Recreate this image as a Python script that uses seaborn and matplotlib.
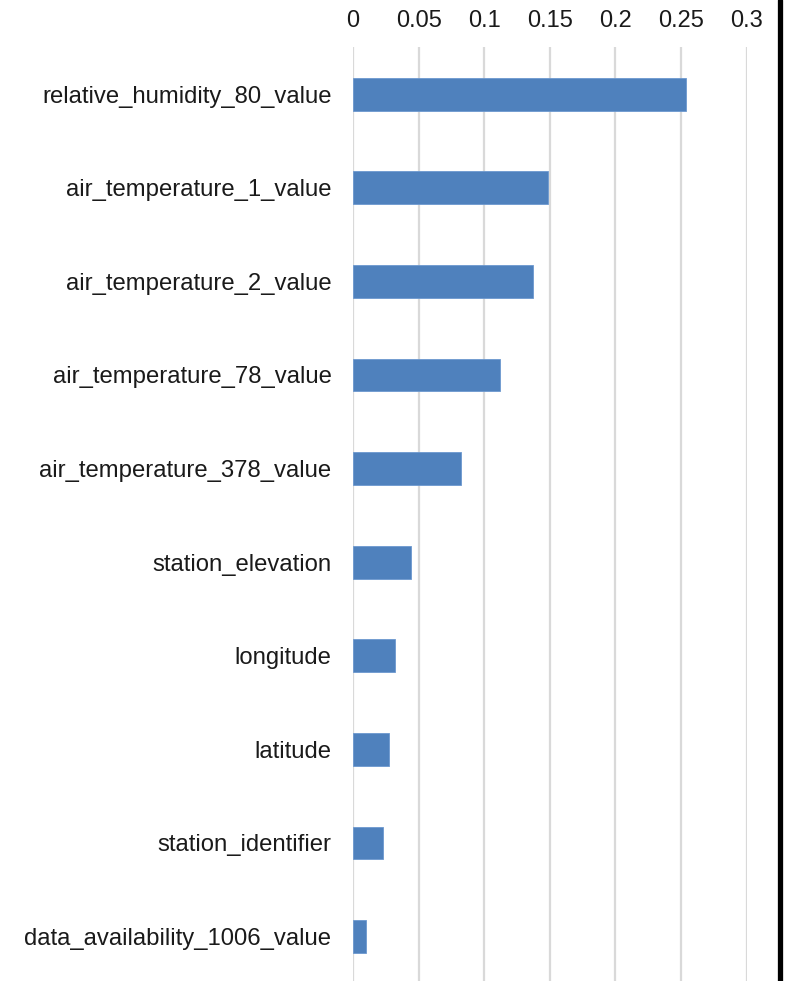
import matplotlib
matplotlib.use("Agg")
import matplotlib.pyplot as plt
from matplotlib.lines import Line2D
import seaborn as sns
import pandas as pd

features = [
    "relative_humidity_80_value",
    "air_temperature_1_value",
    "air_temperature_2_value",
    "air_temperature_78_value",
    "air_temperature_378_value",
    "station_elevation",
    "longitude",
    "latitude",
    "station_identifier",
    "data_availability_1006_value",
]
importance = [0.254, 0.149, 0.137, 0.112, 0.082, 0.0445, 0.032, 0.0277, 0.023, 0.0097]
tick_values = [0, 0.05, 0.1, 0.15, 0.2, 0.25, 0.3]
tick_labels = ["0", "0.05", "0.1", "0.15", "0.2", "0.25", "0.3"]

sns.set_style("white")
plt.rcParams["font.family"] = ["Liberation Sans", "DejaVu Sans"]

W, H = 791, 981
fig = plt.figure(figsize=(W / 100, H / 100), dpi=100)
ax = fig.add_axes([353 / W, 1 - 983.4 / H, (746.6 - 353) / W, 936 / H])

df = pd.DataFrame({"feature": features, "importance": importance})
sns.barplot(data=df, x="importance", y="feature", orient="h",
            color="#4F81BD", saturation=1, width=0.35, ax=ax,
            edgecolor="#6C98CF", linewidth=0.6, zorder=3)

ax.set_xlim(0, 0.3)
ax.set_xticks(tick_values)
ax.set_xticklabels(tick_labels)
ax.xaxis.tick_top()
ax.xaxis.set_label_position("top")
ax.set_xlabel("")
ax.set_ylabel("")
ax.tick_params(axis="x", length=0, pad=11, labelsize=17, colors="#1a1a1a")
ax.tick_params(axis="y", length=0, pad=15.5, labelsize=17.2, colors="#1a1a1a")
ax.xaxis.grid(True, color="#D9D9D9", linewidth=1.6, zorder=0)
ax.yaxis.grid(False)
ax.set_axisbelow(True)
for s in ax.spines.values():
    s.set_visible(False)

# heavy vertical rule along the right edge
fig.add_artist(Line2D([779.5 / W, 779.5 / W], [0, 1], transform=fig.transFigure,
                      color="black", linewidth=3.8))

fig.savefig("out.png", dpi=100)
